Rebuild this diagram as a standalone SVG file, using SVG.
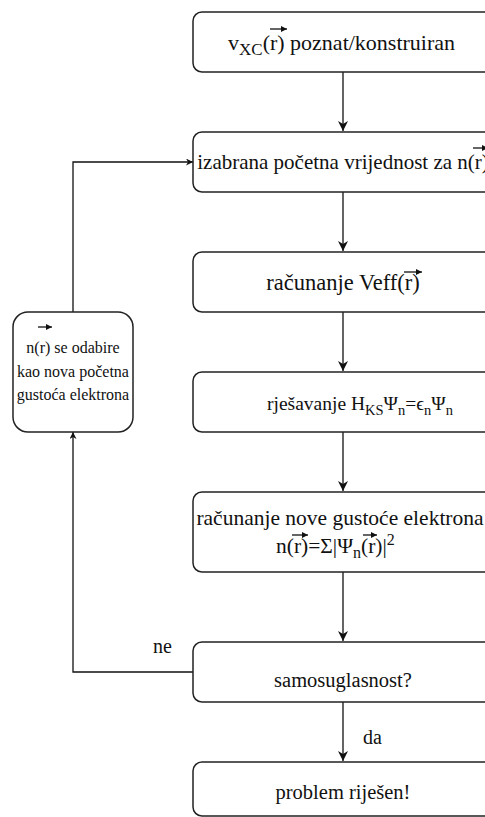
<svg xmlns="http://www.w3.org/2000/svg" width="485" height="817" viewBox="0 0 485 817">
<defs>
<style>
.box{fill:#fff;stroke:#222;stroke-width:1.5}
.edge{fill:none;stroke:#111;stroke-width:1.3}
.vec{fill:none;stroke:#111;stroke-width:1.3}
</style>
<marker id="big" viewBox="0 0 10 10" refX="10" refY="5" markerWidth="10" markerHeight="10" markerUnits="userSpaceOnUse" orient="auto">
<path d="M0,0 L10,5 L0,10 L3,5 Z" fill="#111"/>
</marker>
<marker id="small" viewBox="0 0 10 10" refX="10" refY="5" markerWidth="7" markerHeight="7" markerUnits="userSpaceOnUse" orient="auto">
<path d="M0,0 L10,5 L0,10 L3,5 Z" fill="#111"/>
</marker>
<marker id="va" viewBox="0 0 10 10" refX="10" refY="5" markerWidth="6" markerHeight="6" markerUnits="userSpaceOnUse" orient="auto">
<path d="M0,0 L10,5 L0,10 Z" fill="#111"/>
</marker>
</defs>

<g font-family="Liberation Serif, Times New Roman, serif" font-size="20" fill="#111">
<g id="connectors">
<path class="edge" d="M343,72 V131" marker-end="url(#big)"/>
<path class="edge" d="M343,192 V251" marker-end="url(#big)"/>
<path class="edge" d="M343,312 V371" marker-end="url(#big)"/>
<path class="edge" d="M343,432 V491" marker-end="url(#big)"/>
<path class="edge" d="M343,572 V641" marker-end="url(#big)"/>
<path class="edge" d="M343,702 V761" marker-end="url(#big)"/>
<path class="edge" d="M193,672 H73 V432" marker-end="url(#small)"/>
<path class="edge" d="M73,312 V162 H193" marker-end="url(#small)"/>
<text x="153" y="653">ne</text>
<text x="363" y="744">da</text>
</g>

<g id="n1">
<rect class="box" x="193" y="12" width="300" height="60" rx="9"/>
<text x="228" y="50" font-size="22">v<tspan font-size="17" dy="5">XC</tspan><tspan dy="-5">(r) poznat/konstruiran</tspan></text>
<path class="vec" d="M270,29 H287" marker-end="url(#va)"/>
</g>

<g id="n2">
<rect class="box" x="193" y="132" width="300" height="60" rx="9"/>
<text x="343" y="169" font-size="21" text-anchor="middle">izabrana početna vrijednost za n(r)</text>
<path class="vec" d="M473,148 H488" marker-end="url(#va)"/>
</g>

<g id="n3">
<rect class="box" x="193" y="252" width="300" height="60" rx="9"/>
<text x="343" y="290" font-size="22.5" text-anchor="middle">računanje Veff(r)</text>
<path class="vec" d="M404,272 H422" marker-end="url(#va)"/>
</g>

<g id="n4">
<rect class="box" x="193" y="372" width="300" height="60" rx="9"/>
<text x="267" y="410" font-size="19.5">rješavanje H<tspan font-size="14.5" dy="5">KS</tspan><tspan dy="-5">Ψ</tspan><tspan font-size="14.5" dy="5">n</tspan><tspan dy="-5">=ϵ</tspan><tspan font-size="14.5" dy="5">n</tspan><tspan dy="-5">Ψ</tspan><tspan font-size="14.5" dy="5">n</tspan></text>
</g>

<g id="n5">
<rect class="box" x="193" y="492" width="300" height="80" rx="9"/>
<text x="340" y="525" font-size="21.5" text-anchor="middle">računanje nove gustoće elektrona</text>
<text x="276" y="553" font-size="21.5">n(r)=Σ|Ψ<tspan font-size="16" dy="5">n</tspan><tspan dy="-5">(r)|</tspan><tspan font-size="16" dy="-8">2</tspan></text>
<path class="vec" d="M292,535 H308" marker-end="url(#va)"/>
<path class="vec" d="M363,535 H377" marker-end="url(#va)"/>
</g>

<g id="n6">
<rect class="box" x="193" y="642" width="300" height="60" rx="9"/>
<text x="343" y="687" font-size="20.5" text-anchor="middle">samosuglasnost?</text>
</g>

<g id="n7">
<rect class="box" x="193" y="762" width="300" height="54" rx="9"/>
<text x="343" y="799" font-size="20.5" text-anchor="middle">problem riješen!</text>
</g>

<g id="n8" font-size="16">
<rect class="box" x="13" y="312" width="120" height="120" rx="15"/>
<text x="73" y="353" text-anchor="middle">n(r) se odabire</text>
<text x="73" y="377" text-anchor="middle">kao nova početna</text>
<text x="73" y="400" text-anchor="middle">gustoća elektrona</text>
<path class="vec" d="M38,327 H52" marker-end="url(#va)"/>
</g>
</g>
</svg>
